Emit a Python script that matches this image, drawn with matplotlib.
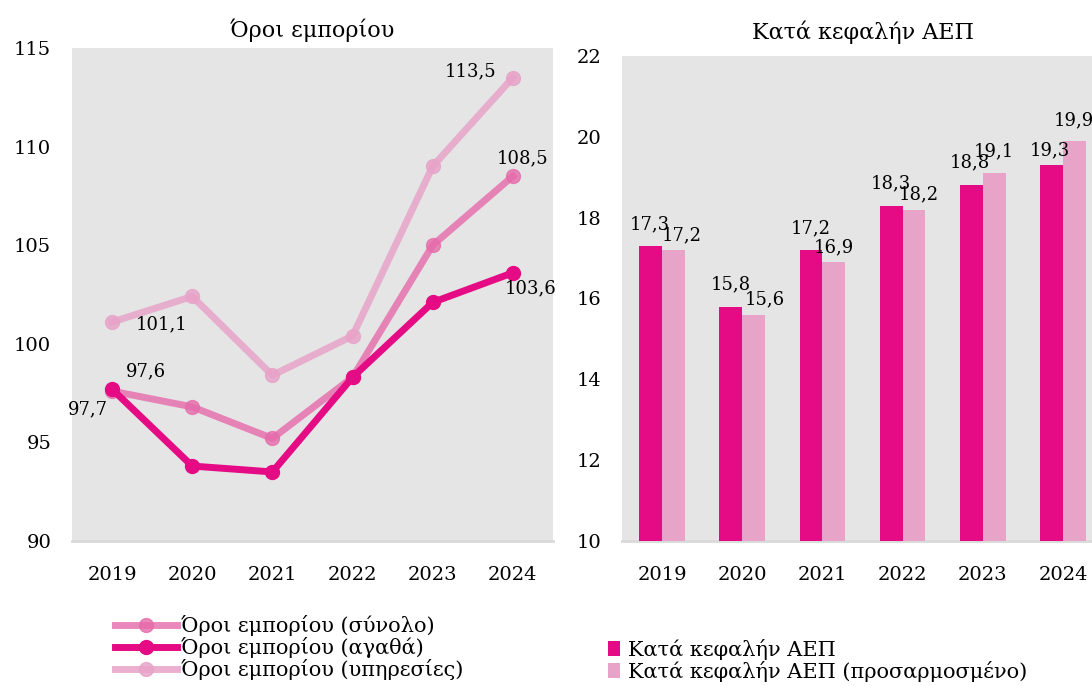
import matplotlib
matplotlib.use('Agg')
import matplotlib.pyplot as plt
import numpy as np

# DATA
years = ['2019', '2020', '2021', '2022', '2023', '2024']
terms_total = [97.6, 96.8, 95.2, 98.3, 105.0, 108.5]
terms_goods = [97.7, 93.8, 93.5, 98.3, 102.1, 103.6]
terms_services = [101.1, 102.4, 98.4, 100.4, 109.0, 113.5]
gdp_pc = [17.3, 15.8, 17.2, 18.3, 18.8, 19.3]
gdp_pc_adj = [17.2, 15.6, 16.9, 18.2, 19.1, 19.9]

plt.rcParams['font.family'] = ['DejaVu Serif']

MAGENTA = '#E50B84'
MID_PINK = '#E56BAB'
LIGHT_PINK = '#E8A3C8'
BG = '#E5E5E5'

fig = plt.figure(figsize=(10.92, 6.86), dpi=100)
ax1 = fig.add_axes([0.0659, 0.2114, 0.4405, 0.7187])
ax2 = fig.add_axes([0.5696, 0.2114, 0.4405, 0.7070])

x = np.arange(len(years))

# LEFT: TERMS OF TRADE
l_tot, = ax1.plot(x, terms_total, color=MID_PINK, lw=5, marker='o', ms=10, alpha=0.8,
                  label='Όροι εμπορίου (σύνολο)', zorder=3)
l_goods, = ax1.plot(x, terms_goods, color=MAGENTA, lw=5, marker='o', ms=10,
                    label='Όροι εμπορίου (αγαθά)', zorder=4)
l_serv, = ax1.plot(x, terms_services, color=LIGHT_PINK, lw=5, marker='o', ms=10, alpha=0.85,
                   label='Όροι εμπορίου (υπηρεσίες)', zorder=2)

ax1.set_xlim(-0.5, len(years) - 0.5)
ax1.set_ylim(90, 115)
ax1.set_yticks([90, 95, 100, 105, 110, 115])
ax1.set_xticks(x)
ax1.set_xticklabels(years)
ax1.set_title('Όροι εμπορίου', fontsize=16, pad=8)

# value labels (offsets in pixels)
def lab(ax, xi, yi, txt, dx, dy):
    ax.annotate(txt, (xi, yi), xytext=(dx, dy), textcoords='offset pixels',
                ha='center', va='center', fontsize=13, zorder=6)

lab(ax1, 0, terms_total[0], '97,6', 34, 20)
lab(ax1, 5, terms_total[5], '108,5', 10, 18)
lab(ax1, 0, terms_goods[0], '97,7', -24, -20)
lab(ax1, 5, terms_goods[5], '103,6', 18, -16)
lab(ax1, 0, terms_services[0], '101,1', 50, -2)
lab(ax1, 5, terms_services[5], '113,5', -42, 6)

# RIGHT: GDP PER CAPITA
w = 0.285
ax2.bar(x - w / 2, gdp_pc, width=w, color=MAGENTA, label='Κατά κεφαλήν ΑΕΠ', zorder=3)
ax2.bar(x + w / 2, gdp_pc_adj, width=w, color=LIGHT_PINK, label='Κατά κεφαλήν ΑΕΠ (προσαρμοσμένο)', zorder=3)
ax2.set_xlim(-0.5, len(years) - 0.5)
ax2.set_ylim(10, 22)
ax2.set_yticks([10, 12, 14, 16, 18, 20, 22])
ax2.set_xticks(x)
ax2.set_xticklabels(years)
ax2.set_title('Κατά κεφαλήν ΑΕΠ', fontsize=16, pad=12)

m_off = [(-1, 22), (0, 22), (0, 22), (0, 22), (-1, 23), (-2, 15)]
p_off = [(8, 15), (11, 15), (0, 15), (5, 15), (0, 22), (0, 20)]
for i in range(len(years)):
    lab(ax2, x[i] - w / 2, gdp_pc[i], f'{gdp_pc[i]:.1f}'.replace('.', ','), *m_off[i])
    lab(ax2, x[i] + w / 2, gdp_pc_adj[i], f'{gdp_pc_adj[i]:.1f}'.replace('.', ','), *p_off[i])

for ax in (ax1, ax2):
    ax.set_facecolor(BG)
    for s in ('top', 'right', 'left'):
        ax.spines[s].set_visible(False)
    ax.spines['bottom'].set_color('#D9D9D9')
    ax.spines['bottom'].set_linewidth(2)
    ax.tick_params(length=0, labelsize=14)
    ax.tick_params(axis='y', pad=15)
    ax.tick_params(axis='x', pad=18)

# LEGENDS
fig.legend(handles=[l_tot, l_goods, l_serv], loc='upper left', bbox_to_anchor=(0.105, 0.103),
           frameon=False, fontsize=15, handlelength=3.0, handletextpad=0.2, labelspacing=0.05,
           borderpad=0, borderaxespad=0)
h2, lb2 = ax2.get_legend_handles_labels()
fig.legend(h2, lb2, loc='upper left', bbox_to_anchor=(0.557, 0.069),
           frameon=False, fontsize=15, handlelength=0.55, handleheight=0.75, handletextpad=0.4,
           labelspacing=0.05, borderpad=0, borderaxespad=0)

fig.savefig('out.png', dpi=100)
